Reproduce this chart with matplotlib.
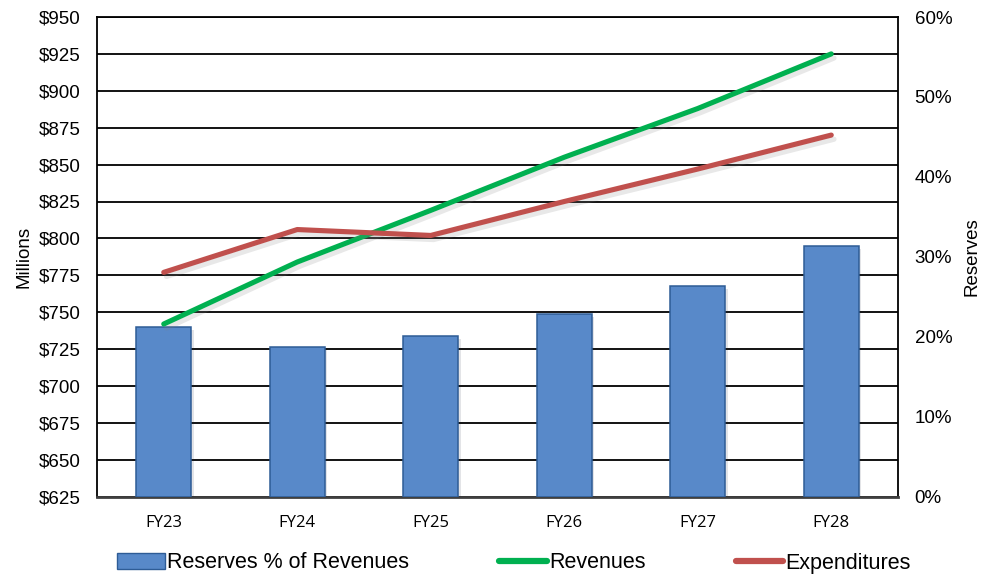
import numpy as np
import matplotlib
matplotlib.use("Agg")
import matplotlib.pyplot as plt
import matplotlib.patheffects as pe
from matplotlib.ticker import FuncFormatter, MultipleLocator
from matplotlib.patches import Patch
from matplotlib.lines import Line2D

plt.rcParams['font.family'] = ['Liberation Sans', 'DejaVu Sans']

# data (millions of dollars / percent)
years = ['FY23', 'FY24', 'FY25', 'FY26', 'FY27', 'FY28']
reserves_pct = [21.2, 18.7, 20.1, 22.8, 26.3, 31.3]
revenues = [742, 784, 819, 855, 888, 925]
expenditures = [777, 806, 802, 825, 847, 870]

x = np.arange(len(years))

fig = plt.figure(figsize=(9.85, 5.8), dpi=100)
ax = fig.add_axes([97/985, 1 - 496.7/580, 801/985, 479.7/580])

# dollar axis: gridlines + left ticks
ax.set_xlim(-0.5, len(years) - 0.5)
ax.set_ylim(625, 950)
ax.yaxis.set_major_locator(MultipleLocator(25))
ax.yaxis.set_major_formatter(FuncFormatter(lambda v, p: f'${v:.0f}'))
ax.grid(axis='y', color='black', lw=1.3)
ax.set_axisbelow(True)
ax.set_xticks(x)
ax.set_xticklabels(years, fontfamily=['Open Sans', 'DejaVu Sans'], fontsize=12)
ax.tick_params(axis='x', length=0, pad=13)
ax.tick_params(axis='y', length=0, pad=12, labelsize=13.5)
ax.set_ylabel('Millions', fontsize=13.5, labelpad=4)
for s in ax.spines.values():
    s.set_color('black')
    s.set_linewidth(1.3)
ax.spines['bottom'].set_color('#404040')
ax.spines['bottom'].set_linewidth(2)

# percent axis with the bars
ax2 = ax.twinx()
ax2.set_ylim(0, 60)
ax2.yaxis.set_major_locator(MultipleLocator(10))
ax2.yaxis.set_major_formatter(FuncFormatter(lambda v, p: f'{v:.0f}%'))
ax2.tick_params(axis='y', length=0, pad=12, labelsize=13.5)
ax2.set_ylabel('Reserves', fontsize=13.5, labelpad=8)
for s in ax2.spines.values():
    s.set_visible(False)
shadow = [pe.SimplePatchShadow(offset=(2, -2), alpha=0.12), pe.Normal()]
bars = ax2.bar(x, reserves_pct, width=0.41, color='#5889C9',
               edgecolor='#2E5C96', linewidth=1.1, zorder=2)
for b in bars:
    b.set_path_effects(shadow)

# lines on a third axis sharing the dollar scale
ax3 = ax.twinx()
ax3.set_ylim(ax.get_ylim())
ax3.axis('off')
line_fx = [pe.SimpleLineShadow(offset=(2, -3), alpha=0.18, shadow_color='gray'), pe.Normal()]
ax3.plot(x, revenues, color='#00B050', lw=3.7, solid_capstyle='round',
         solid_joinstyle='round', path_effects=line_fx)
ax3.plot(x, expenditures, color='#C0504D', lw=3.7, solid_capstyle='round',
         solid_joinstyle='round', path_effects=line_fx)

handles = [Patch(facecolor='#5889C9', edgecolor='#2E5C96'),
           Line2D([0], [0], color='#00B050', lw=4.5, solid_capstyle='round'),
           Line2D([0], [0], color='#C0504D', lw=4.5, solid_capstyle='round')]
fig.legend(handles, ['Reserves % of Revenues', 'Revenues', 'Expenditures'],
           loc='center', bbox_to_anchor=(514/985, 1 - 563/580), ncol=3,
           frameon=False, fontsize=15.5, handlelength=2.2, handletextpad=0.1,
           columnspacing=4.2)

fig.savefig('out.png', dpi=100)
